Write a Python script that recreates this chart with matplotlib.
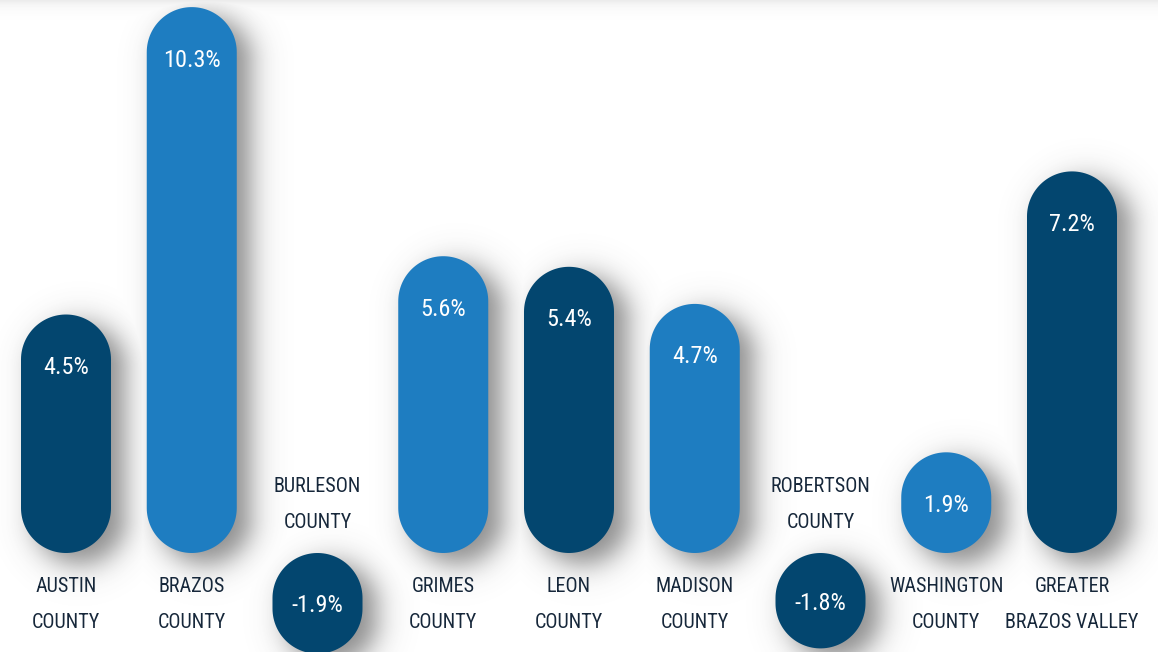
import numpy as np
import matplotlib
matplotlib.use("Agg")
import matplotlib.pyplot as plt
from matplotlib.patches import Polygon
from matplotlib import font_manager as fm

# ---------------- data ----------------
categories = ["AUSTIN\nCOUNTY", "BRAZOS\nCOUNTY", "BURLESON\nCOUNTY", "GRIMES\nCOUNTY",
              "LEON\nCOUNTY", "MADISON\nCOUNTY", "ROBERTSON\nCOUNTY", "WASHINGTON\nCOUNTY",
              "GREATER\nBRAZOS VALLEY"]
values = [4.5, 10.3, -1.9, 5.6, 5.4, 4.7, -1.8, 1.9, 7.2]
value_labels = ["4.5%", "10.3%", "-1.9%", "5.6%", "5.4%", "4.7%", "-1.8%", "1.9%", "7.2%"]
bar_colors = ["#03466f", "#1e7dc1", "#03466f", "#1e7dc1", "#03466f",
              "#1e7dc1", "#03466f", "#1e7dc1", "#03466f"]

# ---------------- fonts: prefer a condensed face ----------------
cond_file = None
preferred = ["Roboto Condensed", "Liberation Sans Narrow", "Open Sans Condensed",
             "Noto Sans Condensed", "DejaVu Sans Condensed"]
entries = fm.fontManager.ttflist
for name in preferred:
    cands = [e for e in entries if e.name == name and e.style == "normal"]
    if cands:
        cands.sort(key=lambda e: abs((e.weight if isinstance(e.weight, int) else 400) - 400))
        cond_file = cands[0].fname
        break
if cond_file is None:
    cands = [e for e in entries if e.style == "normal" and
             (str(e.stretch) in ("condensed", "semi-condensed", "extra-condensed", "ultra-condensed")
              or (isinstance(e.stretch, int) and e.stretch < 500)
              or "Condensed" in e.fname or "Narrow" in e.fname)]
    cands = [e for e in cands if "Bold" not in e.fname and "Italic" not in e.fname
             and "Oblique" not in e.fname]
    if cands:
        cond_file = cands[0].fname
if cond_file:
    fp = fm.FontProperties(fname=cond_file)
else:
    fp = fm.FontProperties(family="Roboto")

W, H = 1158, 652
fig = plt.figure(figsize=(W / 100, H / 100), dpi=100)
ax = fig.add_axes([0, 0, 1, 1])
fig.patch.set_facecolor("white")
ax.set_facecolor("white")

px_x = 125.75   # pixels per category
px_y = 53.0     # pixels per percentage point
x0_px, base_px = 66.0, 553.0
ax.set_xlim(-x0_px / px_x, (W - x0_px) / px_x)
ax.set_ylim((base_px - H) / px_y, base_px / px_y)
ax.axis("off")

bar_w = 90.0 / px_x
rx = bar_w / 2
ry = 45.0 / px_y

x = np.arange(len(values))

# ---------------- shadow (soft, blurred) ----------------
gx = np.arange(W) + 0.5
gy = np.arange(H) + 0.5
GX, GY = np.meshgrid(gx, gy)
shadow = np.zeros((H, W))
sdx, sdy = 14.0, 10.0
for xi, v in zip(x, values):
    disp = ax.transData.transform([(xi, 0), (xi, v)])
    cx = disp[0, 0] + sdx
    ya = H - disp[0, 1]
    yb = H - disp[1, 1]
    top, bot = min(ya, yb), max(ya, yb)
    rad = 45.0
    s0, s1 = top + rad, bot - rad
    if s1 < s0:
        s0 = s1 = (top + bot) / 2
    cyc = np.clip(GY - sdy, s0, s1)
    d = np.hypot(GX - cx, GY - sdy - cyc) - rad
    shade = 1.0 / (1.0 + np.exp(d / 8.5))
    shadow = np.maximum(shadow, shade)
shadow = np.maximum(shadow, 0.18 * np.exp(-np.maximum(GY, 0) / 6.0))
rgba = np.zeros((H, W, 4))
rgba[..., :3] = 0.30
rgba[..., 3] = 0.65 * shadow
ax.imshow(rgba, extent=[ax.get_xlim()[0], ax.get_xlim()[1], ax.get_ylim()[0], ax.get_ylim()[1]],
          origin="upper", aspect="auto", zorder=1, interpolation="bilinear")

# ---------------- bars (pill shapes) ----------------
t_top = np.linspace(0, np.pi, 60)
t_bot = np.linspace(np.pi, 2 * np.pi, 60)
for xi, v, c in zip(x, values, bar_colors):
    lo, hi = min(0, v), max(0, v)
    cy_hi = hi - ry
    cy_lo = lo + ry
    if cy_hi < cy_lo:
        cy_hi = cy_lo = (lo + hi) / 2
    top_pts = np.column_stack([xi + rx * np.cos(t_top), cy_hi + ry * np.sin(t_top)])
    bot_pts = np.column_stack([xi + rx * np.cos(t_bot), cy_lo + ry * np.sin(t_bot)])
    pts = np.vstack([top_pts, bot_pts])
    ax.add_patch(Polygon(pts, closed=True, facecolor=c, edgecolor="none", zorder=3))

# ---------------- texts ----------------
label_color = "#16273a"
for xi, v, lab, cat in zip(x, values, value_labels, categories):
    if v >= 0:
        ty = v - 1.0
    else:
        ty = v / 2 - 0.05
    ax.text(xi, ty, lab, ha="center", va="center", color="white",
            fontproperties=fp, fontsize=17.5, zorder=4)
    lines = cat.split("\n")
    if v >= 0:
        ys = [-34.0 / px_y, -69.0 / px_y]
    else:
        ys = [66.0 / px_y, 31.0 / px_y]
    for ln, yy in zip(lines, ys):
        ax.text(xi, yy, ln, ha="center", va="center", color=label_color,
                fontproperties=fp, fontsize=14.5, zorder=4)

fig.savefig("out.png", dpi=100)
